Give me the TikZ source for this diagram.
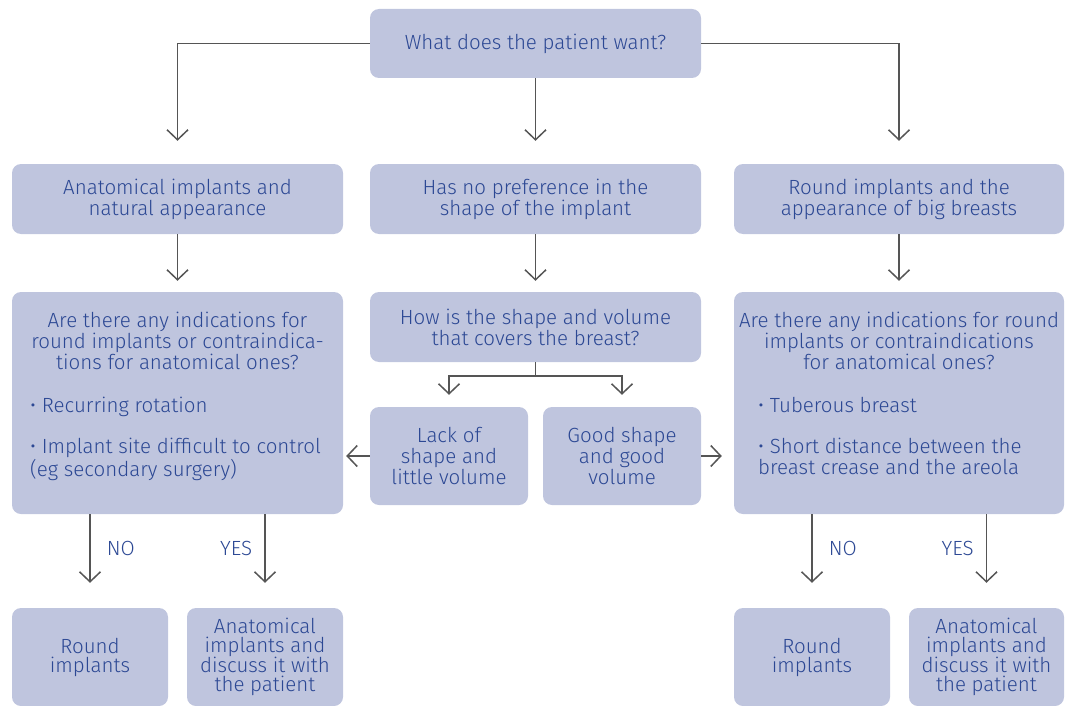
\documentclass[tikz,border=0pt]{standalone}
\usepackage{fontspec}
\setmainfont{Fira Sans Light}
\usetikzlibrary{positioning, arrows.meta, calc}
\definecolor{boxFill}{HTML}{BFC5DE}
\definecolor{textBlue}{HTML}{2C4894}
\definecolor{lineGrey}{HTML}{555555}
\tikzstyle{box} =[fill=boxFill, rounded corners=9pt, text=textBlue, align=center, inner sep=0pt]
\tikzstyle{smallbox} =[box, minimum width=156pt, minimum height=98pt, font=\fontsize{20.5}{19}\selectfont]
\tikzstyle{label} =[text=textBlue, inner sep=0pt]
\tikzstyle{arrow} =[-{Straight Barb[width=21pt, length=10pt]}, line width=1.5pt, lineGrey]

\begin{document}
\begin{tikzpicture}[x=1pt, y=-1pt, font=\fontsize{20.5}{21}\selectfont]
\useasboundingbox (0,0) rectangle (1065,706);

\node (want) [box, minimum width=331pt, minimum height=69pt] at (535.5,43.5) {What does the patient want?};

\node (anatWish) [box, minimum width=331pt, minimum height=70pt] at (177.5,199) {Anatomical implants and\\natural appearance};
\node (noPref) [box, minimum width=331pt, minimum height=70pt] at (535.5,199) {Has no preference in the\\shape of the implant};
\node (roundWish) [box, minimum width=330pt, minimum height=70pt] at (899,199) {Round implants and the\\appearance of big breasts};

\node (leftAsk) [box, minimum width=331pt, minimum height=222pt] at (177.5,403) {};
\node (leftAskText) [label, align=center, anchor=north] at (177.5,312) {Are there any indications for\\round implants or contraindica-\\tions for anatomical ones?};
\node (leftList) [label, align=left, anchor=north west] at (30,397) {• Recurring rotation\\[20pt]• Implant site difficult to control\\(eg secondary surgery)};

\node (shapeAsk) [box, minimum width=331pt, minimum height=70pt] at (535.5,327) {How is the shape and volume\\that covers the breast?};

\node (rightAsk) [box, minimum width=330pt, minimum height=222pt] at (899,403) {};
\node (rightAskText) [label, align=center, anchor=north] at (899,312) {Are there any indications for round\\implants or contraindications\\for anatomical ones?};
\node (rightList) [label, align=left, anchor=north west] at (758,397) {• Tuberous breast\\[20pt]• Short distance between the\\breast crease and the areola};

\node (lack) [box, minimum width=158pt, minimum height=98pt] at (449,456) {Lack of\\shape and\\little volume};
\node (good) [box, minimum width=158pt, minimum height=98pt] at (622,456) {Good shape\\and good\\volume};

\node (leftRound) [smallbox] at (90,657) {Round\\implants};
\node (leftAnat) [smallbox] at (265,657) {Anatomical\\implants and\\discuss it with\\the patient};
\node (rightRound) [smallbox] at (812,657) {Round\\implants};
\node (rightAnat) [smallbox, minimum width=155pt] at (986.5,657) {Anatomical\\implants and\\discuss it with\\the patient};

%top branches
\draw[arrow] (want.west) -| ($(anatWish.north)+(0,-23)$);
\draw[arrow] (want.south) -- ($(noPref.north)+(0,-23)$);
\draw[arrow] (want.east) -| ($(roundWish.north)+(0,-23)$);

\draw[arrow] (anatWish.south) -- ($(leftAsk.north)+(0,-11)$);
\draw[arrow] (noPref.south) -- ($(shapeAsk.north)+(0,-11)$);
\draw[arrow] (roundWish.south) -- ($(rightAsk.north)+(0,-11)$);

%split under the shape question
\coordinate (split) at ($(shapeAsk.south)+(0,14)$);
\draw[line width=1.5pt, lineGrey] (shapeAsk.south) -- (split);
\draw[arrow] (split) -| ($(lack.north)+(0,-12)$);
\draw[arrow] (split) -| ($(good.north)+(0,-12)$);

\draw[arrow] (lack.west) -- ([xshift=3pt]lack.west -| leftAsk.east);
\draw[arrow] (good.east) -- ([xshift=-12pt]good.east -| rightAsk.west);

%answers
\draw[arrow] (leftAsk.south -| leftRound.north) -- node[label, right=16pt] {NO} ($(leftRound.north)+(0,-25)$);
\draw[arrow] (leftAsk.south -| leftAnat.north) -- node[label, left=12pt] {YES} ($(leftAnat.north)+(0,-25)$);
\draw[arrow] (rightAsk.south -| rightRound.north) -- node[label, right=16pt] {NO} ($(rightRound.north)+(0,-25)$);
\draw[arrow] (rightAsk.south -| rightAnat.north) -- node[label, left=12pt] {YES} ($(rightAnat.north)+(0,-25)$);
\end{tikzpicture}
\end{document}
